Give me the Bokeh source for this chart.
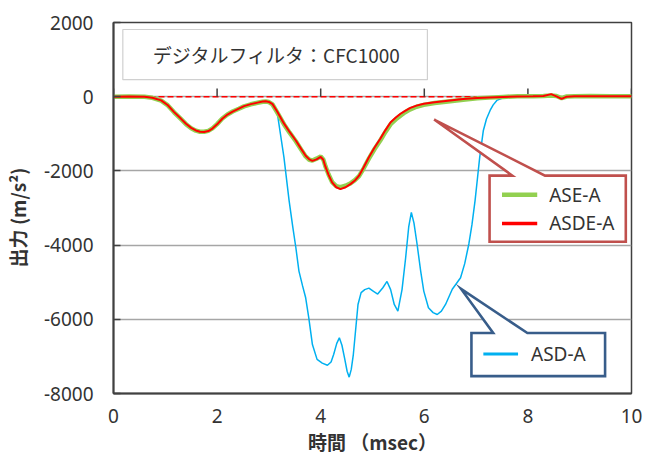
from bokeh.plotting import figure
from bokeh.models import FixedTicker, Span, Range1d, PrintfTickFormatter
from bokeh.core.properties import value
from bokeh.embed import file_html
from bokeh.resources import INLINE

# --- data -------------------------------------------------------------
# filtered sensors (ASE-A, ASDE-A) share one time base [msec]
t_filt = [0, 0.3, 0.6, 0.75, 0.92, 1.05, 1.17, 1.3, 1.4, 1.5, 1.59, 1.67, 1.75,
          1.83, 1.91, 2.0, 2.1, 2.2, 2.3, 2.42, 2.52, 2.65, 2.78, 2.88, 2.94,
          3.0, 3.07, 3.16, 3.29, 3.4, 3.52, 3.62, 3.71, 3.78, 3.84, 3.92, 4.0,
          4.05, 4.09, 4.15, 4.22, 4.3, 4.38, 4.48, 4.58, 4.66, 4.74, 4.83, 4.93,
          5.04, 5.15, 5.25, 5.35, 5.45, 5.54, 5.63, 5.73, 5.85, 5.99, 6.2, 6.5,
          6.75, 7.02, 7.25, 7.52, 7.8, 8.1, 8.3, 8.45, 8.55, 8.65, 8.75, 8.9,
          9.2, 9.6, 10]

asde_a = [0, 5, 0, -30, -100, -230, -415, -590, -730, -840, -910, -945, -950,
          -925, -860, -745, -595, -480, -400, -320, -255, -200, -160, -132, -125,
          -140, -200, -400, -720, -950, -1180, -1400, -1590, -1690, -1730, -1690,
          -1620, -1700, -1880, -2100, -2310, -2440, -2490, -2440, -2350, -2260,
          -2130, -1900, -1630, -1370, -1135, -900, -690, -560, -460, -380, -300,
          -240, -190, -150, -100, -65, -35, -20, -5, 5, 10, 20, 70, 10, -60, 0,
          10, 15, 10, 10]

ase_a = [0, 5, 0, -30, -105, -235, -420, -600, -740, -850, -915, -945, -945,
         -920, -855, -740, -590, -480, -400, -325, -260, -205, -165, -135, -128,
         -145, -210, -420, -740, -970, -1200, -1420, -1610, -1700, -1720, -1670,
         -1610, -1690, -1870, -2090, -2300, -2410, -2440, -2400, -2330, -2250,
         -2140, -1930, -1670, -1410, -1180, -950, -740, -610, -510, -420, -340,
         -270, -220, -170, -120, -80, -45, -25, -5, 10, 15, 20, 35, 20, -40, 5,
         15, 20, 15, 15]

# unfiltered sensor ASD-A
t_asd = [0, 0.3, 0.6, 0.75, 0.92, 1.05, 1.17, 1.3, 1.4, 1.5, 1.59, 1.67, 1.75,
         1.83, 1.91, 2.0, 2.1, 2.2, 2.3, 2.42, 2.52, 2.65, 2.78, 2.88, 2.94,
         3.0, 3.07, 3.16, 3.29, 3.39, 3.46, 3.52, 3.58, 3.65, 3.71, 3.77, 3.84,
         3.93, 4.03, 4.13, 4.2, 4.25, 4.31, 4.36, 4.41, 4.46, 4.51, 4.55, 4.59,
         4.63, 4.68, 4.72, 4.78, 4.85, 4.93, 5.02, 5.10, 5.2, 5.28, 5.35, 5.42,
         5.49, 5.57, 5.64, 5.7, 5.75, 5.8, 5.86, 5.93, 5.99, 6.08, 6.17, 6.25,
         6.33, 6.41, 6.54, 6.70, 6.78, 6.86, 6.92, 6.98, 7.03, 7.07, 7.14, 7.2,
         7.27, 7.33, 7.40, 7.56, 7.8, 8.2, 8.6, 9.0, 9.5, 10]

asd_a = [0, 5, 0, -30, -100, -230, -415, -590, -730, -840, -910, -945, -950,
         -925, -860, -745, -595, -480, -400, -320, -255, -200, -160, -132, -125,
         -140, -200, -420, -1630, -2800, -3500, -4065, -4700, -5100, -5420,
         -5960, -6680, -7080, -7180, -7240, -7150, -6950, -6650, -6500, -6700,
         -7040, -7400, -7560, -7350, -6950, -6200, -5600, -5280, -5200, -5160,
         -5250, -5320, -5150, -4980, -5200, -5600, -5780, -5200, -4340, -3500,
         -3120, -3400, -3970, -4700, -5240, -5690, -5820, -5870, -5780, -5600,
         -5190, -4880, -4500, -3970, -3450, -2800, -2150, -1630, -910, -600,
         -370, -220, -100, -10, 0, 0, 0, 0, 0, 0]

x_ticks = [0, 2, 4, 6, 8, 10]
y_ticks = [-8000, -6000, -4000, -2000, 0, 2000]

title_text = "デジタルフィルタ：CFC1000"
x_title = "時間 （msec）"
y_title = "出力 (m/s²)\u3000"

GREEN = "#92D050"
RED = "#FF0000"
BLUE = "#00B0F0"
CALLOUT_RED = "#C0504D"
CALLOUT_BLUE = "#385D8A"
TEXT = "#333333"
LATIN = "'Noto Sans', 'Noto Sans CJK JP'"
CJK = "'Noto Sans CJK JP'"

# --- figure -----------------------------------------------------------
p = figure(width=646, height=459, output_backend="svg", toolbar_location=None,
           x_range=Range1d(0, 10), y_range=Range1d(-8000, 2000),
           min_border_left=112, min_border_right=15, min_border_top=22,
           min_border_bottom=66)
p.background_fill_color = "white"
p.border_fill_color = "white"
p.outline_line_color = "#404040"
p.outline_line_width = 1.5

p.xgrid.grid_line_color = None
p.ygrid.grid_line_color = "#A6A6A6"
p.ygrid.grid_line_width = 1.3
p.ygrid.ticker = FixedTicker(ticks=y_ticks)

p.xaxis.ticker = FixedTicker(ticks=x_ticks)
p.yaxis.ticker = FixedTicker(ticks=y_ticks)
p.yaxis.formatter = PrintfTickFormatter(format="%d")
for ax in (p.xaxis[0], p.yaxis[0]):
    ax.axis_line_color = "#404040"
    ax.axis_line_width = 2
    ax.major_tick_line_color = "#404040"
    ax.major_tick_line_width = 1.5
    ax.minor_tick_line_color = None
    ax.major_label_text_font = LATIN
    ax.major_label_text_font_size = "19px"
    ax.major_label_text_color = TEXT
    ax.axis_label_text_font = CJK
    ax.axis_label_text_font_size = "19px"
    ax.axis_label_text_font_style = "bold"
    ax.axis_label_text_color = TEXT

p.xaxis.major_tick_in = 0
p.xaxis.major_tick_out = 0
p.xaxis.major_label_standoff = 15
p.xaxis.axis_label = x_title
p.xaxis.axis_label_standoff = 2

p.yaxis.major_tick_in = 7
p.yaxis.major_tick_out = 0
p.yaxis.major_label_standoff = 20
p.yaxis.axis_label = y_title
p.yaxis.axis_label_standoff = 10

# horizontal axis crosses at zero: short upward ticks there
tick_h = 220
p.segment(x0=x_ticks, y0=[0] * len(x_ticks), x1=x_ticks,
          y1=[tick_h] * len(x_ticks), line_color="#404040", line_width=1.5)

# red dashed zero reference
p.add_layout(Span(location=0, dimension="width", line_color=RED,
                  line_width=1.5, line_dash="6 3", level="underlay"))

# --- series -----------------------------------------------------------
p.line(t_asd, asd_a, line_color=BLUE, line_width=1.5)
p.line(t_filt, ase_a, line_color=GREEN, line_width=4.5)
p.line(t_filt, asde_a, line_color=RED, line_width=2)

# --- title box --------------------------------------------------------
p.quad(left=[0.18], right=[6.06], bottom=[459], top=[1811],
       fill_color="white", line_color="#D0D0D0", line_width=1.2)
p.text(x=[0.76], y=[1130], text=[title_text], text_font=value(CJK),
       text_font_size="19px", text_color=TEXT, text_baseline="middle")

# --- callout legends --------------------------------------------------
def callout(left, right, bottom, top, base_l, base_r, tip, color):
    xs = [left, base_l, tip[0], base_r, right, right, left]
    ys = [top, top, tip[1], top, top, bottom, bottom]
    p.patch(xs, ys, fill_color="white", line_color=color, line_width=2.6,
            line_join="miter")

callout(7.26, 9.89, -3911, -2127, 7.70, 8.33, (6.19, -616), CALLOUT_RED)
callout(6.91, 9.49, -7532, -6370, 7.33, 7.99, (6.71, -5181), CALLOUT_BLUE)

legend_items = [
    ("ASE-A", GREEN, 4.5, 7.50, 8.18, -2640, 8.41),
    ("ASDE-A", RED, 3.5, 7.50, 8.18, -3416, 8.41),
    ("ASD-A", BLUE, 3.0, 7.14, 7.81, -6938, 8.06),
]
for label, color, lw, x0, x1, yy, xt in legend_items:
    p.segment(x0=[x0], y0=[yy], x1=[x1], y1=[yy], line_color=color, line_width=lw)
    p.text(x=[xt], y=[yy], text=[label], text_font=value(LATIN),
           text_font_size="19px", text_color=TEXT, text_baseline="middle")

open("out.html", "w").write(file_html(p, INLINE))
